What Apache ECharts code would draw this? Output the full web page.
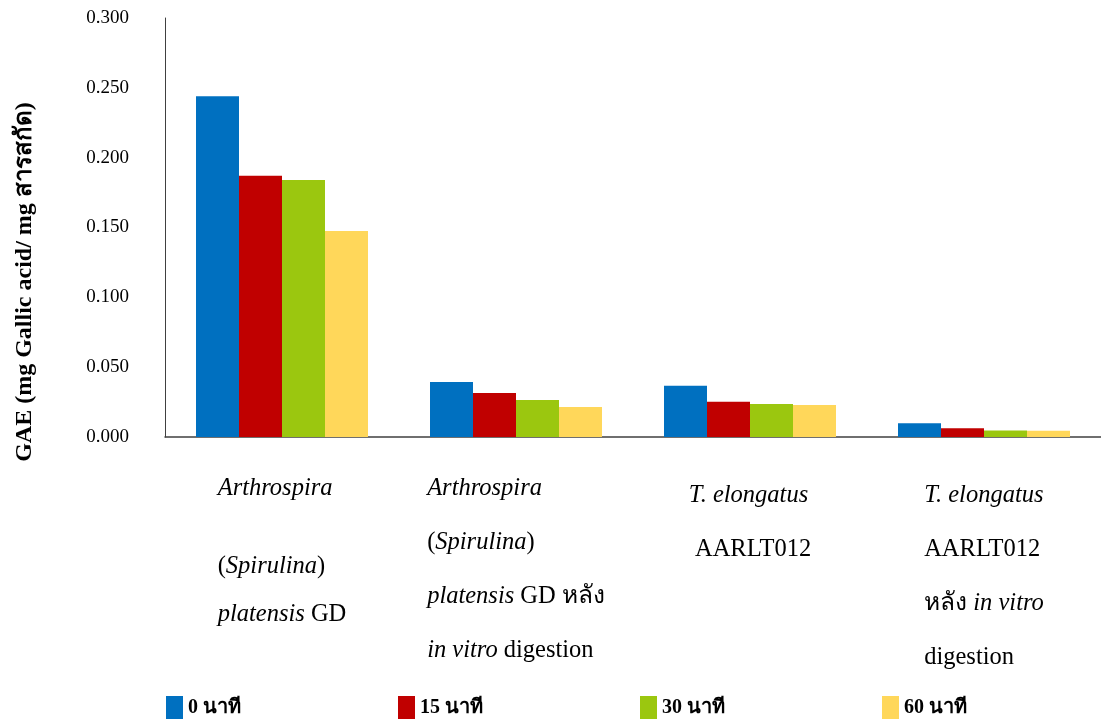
<!DOCTYPE html>
<html>
<head>
<meta charset="utf-8">
<script src="https://cdn.jsdelivr.net/npm/echarts@6/dist/echarts.min.js"></script>
<style>
  html, body { margin: 0; padding: 0; background: #fff; }
  #chart { width: 1101px; height: 720px; }
</style>
</head>
<body>
<div id="chart"></div>
<script>
// data
const categories = [
  "Arthrospira (Spirulina) platensis GD",
  "Arthrospira (Spirulina) platensis GD หลัง in vitro digestion",
  "T. elongatus AARLT012",
  "T. elongatus AARLT012 หลัง in vitro digestion"
];
const seriesNames = ["0 นาที", "15 นาที", "30 นาที", "60 นาที"];
const min0 = [0.244, 0.0394, 0.0367, 0.0098];
const min15 = [0.187, 0.0315, 0.0252, 0.0062];
const min30 = [0.184, 0.0265, 0.0236, 0.0046];
const min60 = [0.1475, 0.0215, 0.0229, 0.0045];
const yTicks = [0, 0.05, 0.1, 0.15, 0.2, 0.25, 0.3];

// category labels as rich text (italic species names)
const catLabels = [
  "{i|Arthrospira}\n{gap| }\n{n48|(}{i48|Spirulina}{n48|)}\n{i48|platensis}{n48| GD}",
  "{i|Arthrospira}\n{n|(}{i|Spirulina}{n|)}\n{i|platensis}{n| GD หลัง}\n{i|in vitro}{n| digestion}",
  "{sp| }\n{i|T. elongatus}\n{n| AARLT012}",
  "{sp| }\n{i|T. elongatus}\n{n|AARLT012}\n{n|หลัง }{i|in vitro}\n{n|digestion}"
];

const colors = ["#0070C0", "#C00000", "#9BC70F", "#FFD75A"];
const serif = "Liberation Serif";

const chart = echarts.init(document.getElementById("chart"));

const base = { fontFamily: serif, fontSize: 24.5, color: "#000", align: "left" };

chart.setOption({
  animation: false,
  color: colors,
  grid: { left: 165, right: 0, top: 18, bottom: 283, containLabel: false },
  legend: {
    data: seriesNames,
    left: 161,
    top: 691,
    itemWidth: 17,
    itemHeight: 23,
    itemGap: 157,
    icon: "rect",
    textStyle: { fontFamily: serif, fontSize: 20, fontWeight: "bold", color: "#000", width: 70 }
  },
  graphic: [
    {
      type: "text",
      x: 25,
      y: 282,
      rotation: Math.PI / 2,
      style: {
        text: "GAE (mg Gallic acid/ mg สารสกัด)",
        fontFamily: serif,
        fontSize: 24,
        fontWeight: "bold",
        fill: "#000",
        align: "center",
        verticalAlign: "middle"
      }
    }
  ],
  xAxis: {
    type: "category",
    data: categories,
    axisLine: { lineStyle: { color: "#404040", width: 1.5 } },
    axisTick: { show: false },
    axisLabel: {
      interval: 0,
      margin: 25,
      align: "center",
      verticalAlign: "top",
      formatter: (v, i) => catLabels[i],
      rich: {
        i: Object.assign({}, base, { fontStyle: "italic", lineHeight: 54 }),
        n: Object.assign({}, base, { lineHeight: 54 }),
        i48: Object.assign({}, base, { fontStyle: "italic", lineHeight: 48 }),
        n48: Object.assign({}, base, { lineHeight: 48 }),
        gap: Object.assign({}, base, { fontSize: 1, lineHeight: 27 }),
        sp: Object.assign({}, base, { fontSize: 1, lineHeight: 7 })
      }
    }
  },
  yAxis: {
    type: "value",
    min: 0,
    max: 0.3,
    interval: 0.05,
    axisLine: { show: true, lineStyle: { color: "#404040", width: 1 } },
    axisTick: { show: false },
    splitLine: { show: false },
    axisLabel: {
      margin: 36,
      fontFamily: serif,
      fontSize: 19,
      color: "#000",
      formatter: v => v.toFixed(3)
    }
  },
  series: [min0, min15, min30, min60].map((d, k) => ({
    name: seriesNames[k],
    type: "bar",
    data: d,
    barGap: "0%",
    barCategoryGap: "26.5%"
  }))
});
</script>
</body>
</html>
